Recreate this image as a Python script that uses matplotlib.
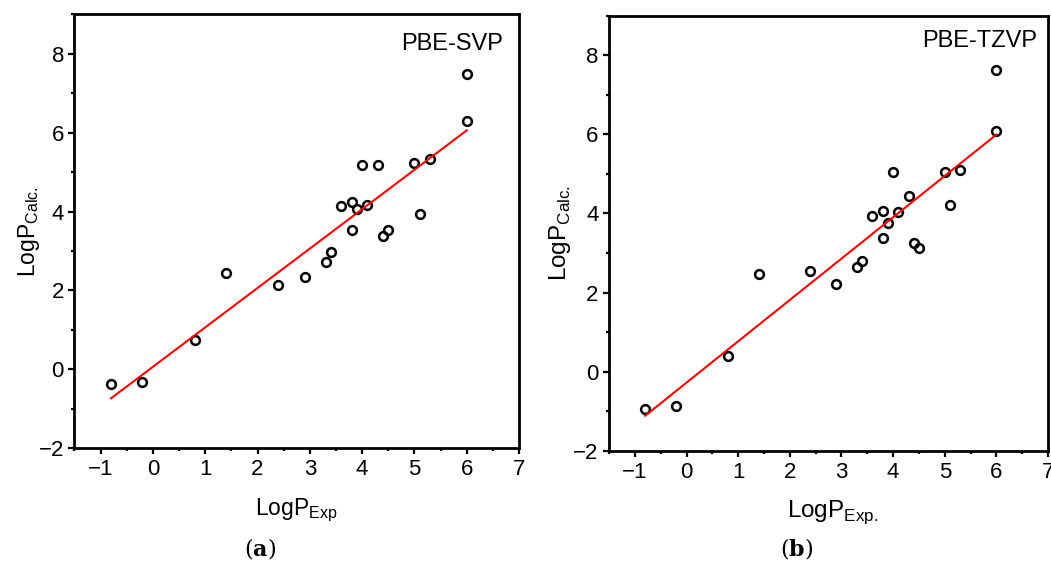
import numpy as np
import matplotlib
matplotlib.use("Agg")
import matplotlib.pyplot as plt
from matplotlib.ticker import MultipleLocator

# experimental logP (same compounds in both panels)
log_p_exp = [-0.8, -0.2, 0.8, 1.4, 2.4, 2.9, 3.3, 3.4, 3.6, 3.8, 3.8,
             3.9, 4.0, 4.1, 4.3, 4.4, 4.5, 5.0, 5.1, 5.3, 6.0, 6.0]

# calculated logP, PBE with SVP basis
svp_calc = [-0.37, -0.32, 0.73, 2.43, 2.14, 2.33, 2.71, 2.98, 4.14, 4.25, 3.52,
            4.07, 5.18, 4.17, 5.18, 3.37, 3.52, 5.24, 3.93, 5.33, 6.29, 7.49]

# calculated logP, PBE with TZVP basis
tzvp_calc = [-0.95, -0.86, 0.40, 2.47, 2.54, 2.21, 2.64, 2.81, 3.93, 4.07, 3.39,
             3.76, 5.04, 4.04, 4.45, 3.26, 3.13, 5.04, 4.21, 5.09, 6.09, 7.63]

panel_titles = ["PBE-SVP", "PBE-TZVP"]
x_labels = [r"LogP$_{\mathregular{Exp}}$", r"LogP$_{\mathregular{Exp.}}$"]
y_label = r"LogP$_{\mathregular{Calc.}}$"
captions = ["a", "b"]

plt.rcParams.update({
    "font.family": ["Liberation Sans", "DejaVu Sans"],
    "axes.linewidth": 2.0,
    "xtick.major.width": 1.6,
    "ytick.major.width": 1.6,
    "xtick.minor.width": 1.6,
    "ytick.minor.width": 1.6,
    "xtick.major.size": 4.5,
    "ytick.major.size": 4.5,
    "xtick.minor.size": 2.5,
    "ytick.minor.size": 2.5,
})

fig = plt.figure(figsize=(10.51, 5.66), dpi=100)

axes_rects = [
    [0.0708, 0.2085, 0.4231, 0.7659],
    [0.5795, 0.2032, 0.4177, 0.7694],
]
label_sizes = [16.5, 17.5]
ylabel_x = [-0.073, -0.082]
xlabel_pos = [(0.499, -0.113), (0.51, -0.108)]
title_pos = [(0.964, 0.918), (0.974, 0.928)]
caption_x = [0.247, 0.758]

for i, calc in enumerate([svp_calc, tzvp_calc]):
    ax = fig.add_axes(axes_rects[i])
    x = np.array(log_p_exp)
    y = np.array(calc)

    ax.plot(x, y, linestyle="none", marker="o", markersize=6.3,
            markerfacecolor="none", markeredgecolor="black",
            markeredgewidth=1.8, zorder=2)

    slope, intercept = np.polyfit(x, y, 1)
    xfit = np.array([x.min(), x.max()])
    ax.plot(xfit, slope * xfit + intercept, color="red", linewidth=1.5, zorder=3)

    ax.set_xlim(-1.5, 7)
    ax.set_ylim(-2, 9)
    ax.xaxis.set_major_locator(MultipleLocator(1))
    ax.xaxis.set_minor_locator(MultipleLocator(0.5))
    ax.yaxis.set_major_locator(MultipleLocator(2))
    ax.yaxis.set_minor_locator(MultipleLocator(1))
    ax.tick_params(axis="both", which="both", direction="out",
                   top=False, right=False, labelsize=16)
    ax.tick_params(axis="x", pad=3.5)
    ax.tick_params(axis="y", pad=3)

    ax.set_xlabel(x_labels[i], fontsize=label_sizes[i])
    ax.set_ylabel(y_label, fontsize=label_sizes[i])
    ax.xaxis.set_label_coords(*xlabel_pos[i])
    ax.yaxis.set_label_coords(ylabel_x[i], 0.5)

    ax.text(*title_pos[i], panel_titles[i], transform=ax.transAxes,
            ha="right", va="baseline", fontsize=17)

    fig.text(caption_x[i], 0.008, r"($\mathbf{" + captions[i] + r"}$)",
             ha="center", va="bottom", fontsize=16,
             family="DejaVu Serif", math_fontfamily="dejavuserif")

fig.savefig("out.png", dpi=100)
